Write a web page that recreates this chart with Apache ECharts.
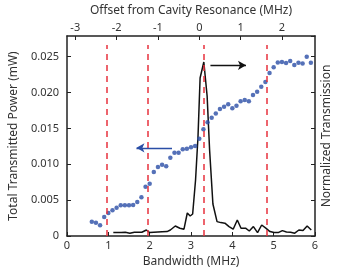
<!DOCTYPE html>
<html><head><meta charset="utf-8">
<script src="https://cdn.jsdelivr.net/npm/echarts@6/dist/echarts.min.js"></script>
<style>html,body{margin:0;padding:0;background:#fff}#c{width:341px;height:273px}</style>
</head><body><div id="c"></div>
<script>
const powerBandwidth = [0.6,0.7,0.8,0.9,1.0,1.1,1.2,1.3,1.4,1.5,1.6,1.7,1.8,1.9,2.0,2.1,2.2,2.3,2.4,2.5,2.6,2.7,2.8,2.9,3.0,3.1,3.2,3.3,3.4,3.5,3.6,3.7,3.8,3.9,4.0,4.1,4.2,4.3,4.4,4.5,4.6,4.7,4.8,4.9,5.0,5.1,5.2,5.3,5.4,5.5,5.6,5.7,5.8,5.9];
const totalPower = [0.00199,0.00185,0.00149,0.00265,0.00321,0.00358,0.00395,0.00428,0.00428,0.00428,0.00432,0.00474,0.00539,0.00687,0.00729,0.00892,0.00962,0.00994,0.00972,0.01091,0.01161,0.01161,0.01209,0.01217,0.01236,0.01255,0.01356,0.01487,0.01585,0.01649,0.01710,0.01770,0.01802,0.01836,0.01780,0.01816,0.01878,0.01896,0.01878,0.01966,0.02012,0.02081,0.02147,0.02272,0.02352,0.02421,0.02426,0.02412,0.02440,0.02384,0.02416,0.02407,0.02500,0.02416];
const transBandwidth = [1.12,1.21,1.31,1.41,1.52,1.63,1.72,1.81,1.92,2.0,2.1,2.2,2.3,2.42,2.5,2.62,2.73,2.83,2.91,2.98,3.04,3.11,3.17,3.22,3.31,3.39,3.45,3.53,3.63,3.72,3.82,3.92,4.02,4.12,4.21,4.32,4.41,4.51,4.61,4.71,4.81,4.91,5.01,5.11,5.21,5.31,5.41,5.51,5.61,5.71,5.81,5.91];
const normTransmission = [0.017,0.017,0.018,0.019,0.014,0.019,0.019,0.019,0.030,0.017,0.019,0.020,0.021,0.022,0.030,0.050,0.039,0.034,0.115,0.100,0.110,0.280,0.500,0.790,0.870,0.700,0.430,0.160,0.072,0.067,0.064,0.047,0.034,0.080,0.039,0.039,0.025,0.047,0.017,0.055,0.039,0.022,0.017,0.017,0.027,0.020,0.019,0.014,0.030,0.027,0.050,0.030];
const cutoffLines = [0.96, 1.96, 3.30, 4.84];
const cutoffTop = 0.955;
const bottomTicks = [0,1,2,3,4,5,6];
const topTicks = [-3,-2,-1,0,1,2];
const resonanceOffset = 3.2;
const rightArrow = [[3.47,0.0238],[4.33,0.0238]];
const leftArrow = [[2.54,0.0123],[1.68,0.0123]];

const FONT = 'Noto Sans';
const TXT = '#333';
const AX = '#222';
const BLUE = '#2a4ea6';
const chart = echarts.init(document.getElementById('c'), null, {renderer:'canvas'});
const axisLine = {show:true, onZero:false, lineStyle:{color:AX, width:1.5}};
const tick = {show:true, inside:true, length:4, lineStyle:{color:AX, width:1}};
const lbl = {color:TXT, fontFamily:FONT, fontSize:11};
const nameStyle = {color:TXT, fontFamily:FONT, fontSize:12};
chart.setOption({
  animation:false,
  grid:{left:63, right:21, top:36, bottom:37},
  xAxis:[
    {type:'value', position:'bottom', min:0, max:6, interval:1,
     name:'Bandwidth (MHz)', nameLocation:'middle', nameGap:19, nameTextStyle:nameStyle,
     axisLine, axisTick:Object.assign({customValues:bottomTicks}, tick),
     axisLabel:Object.assign({margin:4, customValues:bottomTicks}, lbl), splitLine:{show:false}},
    {type:'value', position:'top', min:-resonanceOffset, max:6-resonanceOffset,
     name:'Offset from Cavity Resonance (MHz)', nameLocation:'middle', nameGap:19, nameTextStyle:nameStyle,
     axisLine, axisTick:Object.assign({customValues:topTicks}, tick),
     axisLabel:Object.assign({margin:3, customValues:topTicks}, lbl), splitLine:{show:false}}
  ],
  yAxis:[
    {type:'value', position:'left', min:0, max:0.02789, interval:0.005,
     name:'Total Transmitted Power (mW)', nameLocation:'middle', nameGap:42, nameRotate:90, nameTextStyle:nameStyle,
     axisLine, axisTick:tick,
     axisLabel:Object.assign({margin:8, showMaxLabel:false, formatter:v=> v===0?'0':v.toFixed(3)}, lbl),
     splitLine:{show:false}},
    {type:'value', position:'right', min:0, max:1, interval:0.005/0.02789,
     name:'Normalized Transmission', nameLocation:'middle', nameGap:6, nameRotate:90, nameTextStyle:nameStyle,
     axisLine, axisTick:tick, axisLabel:{show:false}, splitLine:{show:false}}
  ],
  series:[
    {type:'line', xAxisIndex:0, yAxisIndex:1, showSymbol:false, symbol:'none',
     lineStyle:{color:'#111', width:1.5}, z:2,
     data: transBandwidth.map((x,i)=>[x, normTransmission[i]]),
     markLine:{silent:true, symbol:'none', label:{show:false},
       lineStyle:{color:'#e8323e', width:1.5, type:[6,5]},
       data: cutoffLines.map(v=>[{coord:[v,0]},{coord:[v,cutoffTop]}])}},
    {type:'scatter', xAxisIndex:0, yAxisIndex:0, symbol:'circle', symbolSize:4.5,
     itemStyle:{color:BLUE}, z:3,
     data: powerBandwidth.map((x,i)=>[x, totalPower[i]]),
     markLine:{silent:true, label:{show:false}, symbol:['none','arrow'], symbolSize:[7,8],
       data:[
         [{coord:rightArrow[0], lineStyle:{color:'#111', width:1.3, type:'solid'}, itemStyle:{color:'#111'}},{coord:rightArrow[1]}],
         [{coord:leftArrow[0], lineStyle:{color:BLUE, width:1.3, type:'solid'}, itemStyle:{color:BLUE}},{coord:leftArrow[1]}]
       ]}}
  ]
});
</script></body></html>
